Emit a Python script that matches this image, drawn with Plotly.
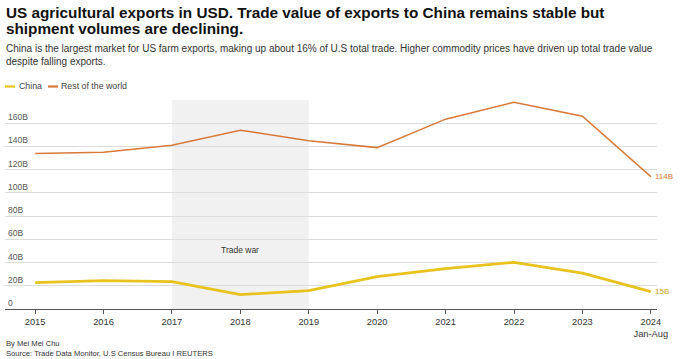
import plotly.graph_objects as go

years = [2015, 2016, 2017, 2018, 2019, 2020, 2021, 2022, 2023, 2024]
year_labels = ["2015", "2016", "2017", "2018", "2019", "2020", "2021", "2022", "2023", "2024<br>Jan-Aug"]
china = [22.7, 24.4, 23.6, 12.4, 15.8, 27.9, 34.8, 40.2, 30.8, 15]
rest_world = [134, 135, 141, 154, 145, 139, 163.5, 178, 166, 114]
y_ticks = [0, 20, 40, 60, 80, 100, 120, 140, 160]
y_tick_labels = ["0", "20B", "40B", "60B", "80B", "100B", "120B", "140B", "160B"]
trade_war = (2017, 2019)

W, H = 680, 359
ML, MR, MT, MB = 5, 23, 100, 50
PW, PH = W - ML - MR, H - MT - MB

def px(x):
    return (x - ML) / PW

def py(y):
    return (H - MB - y) / PH

CHINA_C = "#e8c21e"
ROW_C = "#d7793a"
FONT = "Liberation Sans, Arial, sans-serif"

fig = go.Figure()
fig.add_trace(go.Scatter(x=years, y=rest_world, mode="lines", name="Rest of the world",
                         line=dict(color=ROW_C, width=1.5), hoverinfo="skip"))
fig.add_trace(go.Scatter(x=years, y=china, mode="lines", name="China",
                         line=dict(color=CHINA_C, width=2.8), hoverinfo="skip"))

shapes = [
    dict(type="rect", xref="x", yref="paper", x0=trade_war[0], x1=trade_war[1], y0=0, y1=1,
         fillcolor="#f1f1f1", line=dict(width=0), layer="below"),
    dict(type="line", xref="paper", yref="paper", x0=px(5), x1=px(15), y0=py(86.5), y1=py(86.5),
         line=dict(color=CHINA_C, width=2.2)),
    dict(type="line", xref="paper", yref="paper", x0=px(48), x1=px(58), y0=py(86.5), y1=py(86.5),
         line=dict(color=ROW_C, width=2.2)),
]

def txt(x, y, text, size, color, anchor="middle", xa="left"):
    return dict(xref="paper", yref="paper", x=px(x), y=py(y), xanchor=xa, yanchor=anchor,
                showarrow=False, align="left", text=text,
                font=dict(family=FONT, size=size, color=color))

annotations = [
    txt(4, 12.5, "<b>US agricultural exports in USD. Trade value of exports to China remains stable but</b>", 15.3, "#111"),
    txt(4, 28, "<b>shipment volumes are declining.</b>", 15.3, "#111"),
    txt(4, 49, "China is the largest market for US farm exports, making up about 16% of U.S total trade. Higher commodity prices have driven up total trade value", 10, "#333"),
    txt(4, 62, "despite falling exports.", 10, "#333"),
    txt(17, 86, "China", 8.8, "#444"),
    txt(59, 86, "Rest of the world", 8.8, "#444"),
    dict(xref="x", yref="y", x=(trade_war[0] + trade_war[1]) / 2, y=51, showarrow=False,
         text="Trade war", font=dict(family=FONT, size=8.5, color="#333")),
    dict(xref="x", yref="y", x=years[-1], y=rest_world[-1], xanchor="left", yanchor="middle", xshift=2,
         showarrow=False, text="114B", font=dict(family=FONT, size=8, color=ROW_C)),
    dict(xref="x", yref="y", x=years[-1], y=china[-1], xanchor="left", yanchor="middle", xshift=2,
         showarrow=False, text="15B", font=dict(family=FONT, size=8, color="#c9a61a")),
    txt(4, 343, "By Mei Mei Chu", 7.6, "#333"),
    txt(4, 353, "Source: Trade Data Monitor, U.S Census Bureau I REUTERS", 7.6, "#333"),
]

fig.update_layout(
    width=W, height=H, margin=dict(l=ML, r=MR, t=MT, b=MB),
    paper_bgcolor="white", plot_bgcolor="white", showlegend=False,
    font=dict(family=FONT),
    shapes=shapes, annotations=annotations,
    xaxis=dict(range=[2014.56, 2024.09], tickvals=years, ticktext=year_labels,
               ticks="outside", ticklen=4, tickcolor="#555", showgrid=False,
               showline=True, linecolor="#555", linewidth=1, zeroline=False,
               tickfont=dict(family=FONT, size=9.3, color="#333")),
    yaxis=dict(range=[0, 180], tickvals=y_ticks, ticktext=y_tick_labels,
               ticklabelposition="inside top", showgrid=True, gridcolor="#dcdcdc", gridwidth=1,
               zeroline=False, showline=False, ticks="",
               tickfont=dict(family=FONT, size=8.5, color="#555")),
)

fig.write_html("out.html", config={"displayModeBar": False},
               post_script="document.body.style.margin='0px';")
